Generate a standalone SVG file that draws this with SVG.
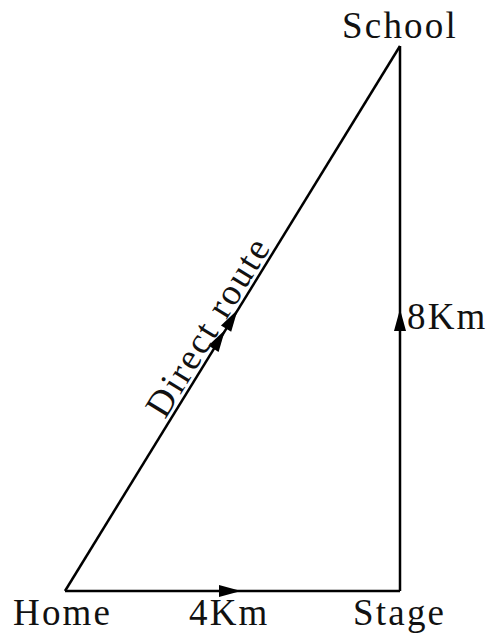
<svg xmlns="http://www.w3.org/2000/svg" width="489" height="634" viewBox="0 0 489 634">
  <style>
    .lbl { font-family: "Liberation Serif", "Times New Roman", serif; font-size: 37px; letter-spacing: 2.2px; fill: #111; }
    .edge { fill: none; stroke: #000; stroke-width: 2.5; }
    .head { fill: #000; }
  </style>
  <defs>
    <path id="ah" d="M0,0 L-22,-6 L-22,6 Z"/>
  </defs>
  <rect width="489" height="634" fill="#fff"/>
  <g id="connectors">
    <path class="edge" d="M65,591 L400,591"/>
    <path class="edge" d="M400,591 L400,46"/>
    <path class="edge" d="M65,591 L400,46"/>
    <use href="#ah" class="head" transform="translate(241,591)"/>
    <use href="#ah" class="head" transform="translate(400,309) rotate(-90)"/>
    <use href="#ah" class="head" transform="translate(225,330) rotate(-58.4)"/>
    <use href="#ah" class="head" transform="translate(237.6,309.8) rotate(-58.4)"/>
  </g>
  <g id="home"><text class="lbl" x="13" y="625">Home</text></g>
  <g id="stage"><text class="lbl" x="353" y="625">Stage</text></g>
  <g id="school"><text class="lbl" x="342" y="38">School</text></g>
  <g id="label-4km"><text class="lbl" x="189" y="625">4Km</text></g>
  <g id="label-8km"><text class="lbl" x="407" y="329">8Km</text></g>
  <g id="label-direct"><text class="lbl" transform="translate(165,420) rotate(-58.4)">Direct route</text></g>
</svg>
